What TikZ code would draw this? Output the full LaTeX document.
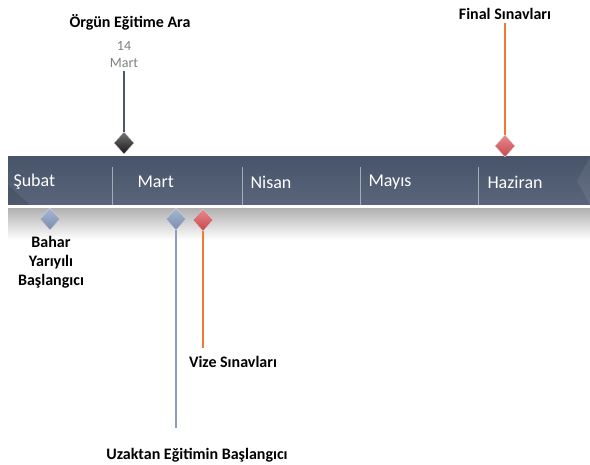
\documentclass[tikz,border=0pt]{standalone}
\usepackage{fontspec}
\setmainfont{Carlito}
\usetikzlibrary{shapes.geometric}
\definecolor{barblue}{HTML}{4B586F}
\definecolor{linkblue}{HTML}{8E9CBE}
\definecolor{linkorange}{HTML}{F07A30}
\definecolor{gemblueA}{HTML}{A7B6D3}
\definecolor{gemblueB}{HTML}{7C8CAE}
\definecolor{gemredA}{HTML}{EA8A8C}
\definecolor{gemredB}{HTML}{C4474D}

\begin{document}
\begin{tikzpicture}[x=1pt, y=-1pt,
    gem/.style={diamond, draw=white!70!gray, line width=0.3pt, minimum width=20pt, minimum height=22pt, inner sep=0pt},
    bluegem/.style={gem, top color=gemblueA, bottom color=gemblueB},
    redgem/.style={gem, top color=gemredA, bottom color=gemredB},
    month/.style={text=white, anchor=west, font=\fontsize{18}{20}\selectfont},
    event/.style={align=center, font=\bfseries\fontsize{16}{19}\selectfont},
    datetext/.style={text=gray, font=\fontsize{14}{16}\selectfont},
    sep/.style={white!50!barblue, line width=0.8pt}]
                \useasboundingbox (0,0) rectangle (590,465);
                \shade[top color=black!30, bottom color=white] (8,209) rectangle (590,240);
                \shade[top color=barblue!95!black, bottom color=barblue!92!white] (8,157) rectangle (590,205);
                \fill[black, opacity=0.12] (8,205) -- (8,185) -- (30,205) -- cycle;
                \fill[white, opacity=0.07] (590,157) -- (577,181) -- (590,205) -- cycle;
                \foreach \x in {112,242,360,478} {
                    \draw[sep] (\x,167) -- (\x,205);
                }
                \foreach \x/\m in {10/Şubat, 134/Mart, 247/Nisan, 365/Mayıs, 484/Haziran} {
                    \node[month] (M\x) at (\x,182) {\m};
                }
                \node[gem, top color=black!55, bottom color=black!90] (dOrgun) at (124,143) {};
                \node[event] (tOrgun) at (130,22) {Örgün Eğitime Ara};
                \node[datetext] (tDay) at (124,46) {14};
                \node[datetext] (tMonth) at (124,63) {Mart};
                \draw[barblue, line width=1.5pt] (tMonth.south) -- (dOrgun.north);
                \node[redgem] (dFinal) at (505,146) {};
                \node[event] (tFinal) at (505,14) {Final Sınavları};
                \draw[linkorange, line width=1.5pt] (tFinal.south) -- (dFinal.north);
                \node[bluegem] (dBahar) at (50,219) {};
                \node[event] (tBahar) at (51,262) {Bahar\\Yarıyılı\\Başlangıcı};
                \node[bluegem] (dUzak) at (176,219) {};
                \coordinate (eUzak) at (176,428);
                \draw[linkblue, line width=1.5pt] (dUzak.south) -- (eUzak);
                \node[event] (tUzak) at (197,455) {Uzaktan Eğitimin Başlangıcı};
                \node[redgem] (dVize) at (203,220) {};
                \coordinate (eVize) at (203,348);
                \draw[linkorange, line width=1.5pt] (dVize.south) -- (eVize);
                \node[event] (tVize) at (233,362) {Vize Sınavları};
            \end{tikzpicture}
\end{document}
